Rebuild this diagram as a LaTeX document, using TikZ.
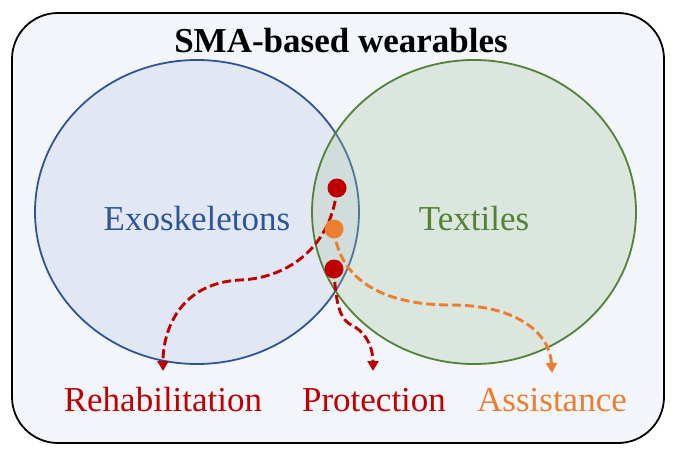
\documentclass[tikz,border=0pt]{standalone}
\usepackage{fontspec}
\setmainfont{Liberation Serif}
\usetikzlibrary{arrows.meta}
\definecolor{bgc}{HTML}{F2F5FA}
\definecolor{exob}{HTML}{2F5597}
\definecolor{exof}{HTML}{E1E8F4}
\definecolor{texg}{HTML}{548235}
\definecolor{texf}{HTML}{A9C4A0}
\definecolor{redc}{HTML}{C00000}
\definecolor{orac}{HTML}{ED7D31}
\tikzset{
  dot/.style={circle,inner sep=0pt,minimum size=19pt},
  flow/.style={line width=2.9pt,dash pattern=on 9pt off 4pt,-{Triangle[length=10pt,width=11pt]}},
  lbl/.style={anchor=base,inner sep=0pt,font=\fontsize{35}{35}\selectfont},
}
\begin{document}
\begin{tikzpicture}[x=1pt,y=-1pt]
\useasboundingbox (0,0) rectangle (676,457);
\draw[line width=1.8pt,fill=bgc,rounded corners=46pt] (12,13) rectangle (664,443);
\node[anchor=base,inner sep=0pt,font=\fontsize{35}{35}\selectfont\bfseries] (title) at (341,53) {SMA-based wearables};
\draw[exob,line width=1.8pt,fill=exof] (197,212) ellipse[x radius=162,y radius=152];
\draw[texg,line width=1.8pt,fill=texf,fill opacity=0.3] (474,212) ellipse[x radius=162,y radius=152];
\node[lbl,text=exob] (exo) at (197,230) {Exoskeletons};
\node[lbl,text=texg] (tex) at (474,230) {Textiles};
\node[lbl,text=redc] (reh) at (163,411) {Rehabilitation};
\node[lbl,text=redc] (pro) at (374,411) {Protection};
\node[lbl,text=orac] (ass) at (552,411) {Assistance};
\coordinate (e1) at (163,371);
\coordinate (e2) at (373,371);
\coordinate (e3) at (552,373);
\coordinate (d1c) at (337,188);
\coordinate (d2c) at (334,229);
\coordinate (d3c) at (334,269);
\draw[flow,redc] (d1c) .. controls (332,245) and (290,278) .. (240,280) .. controls (180,283) and (163,330) .. (e1);
\draw[flow,orac] (d2c) .. controls (340,290) and (400,305) .. (450,305) .. controls (520,305) and (550,335) .. (e3);
\draw[flow,redc] (d3c) .. controls (336,318) and (345,322) .. (355,327) .. controls (368,335) and (373,350) .. (e2);
\node[dot,fill=redc] (d1) at (d1c) {};
\node[dot,fill=orac] (d2) at (d2c) {};
\node[dot,fill=redc] (d3) at (d3c) {};
\end{tikzpicture}
\end{document}
